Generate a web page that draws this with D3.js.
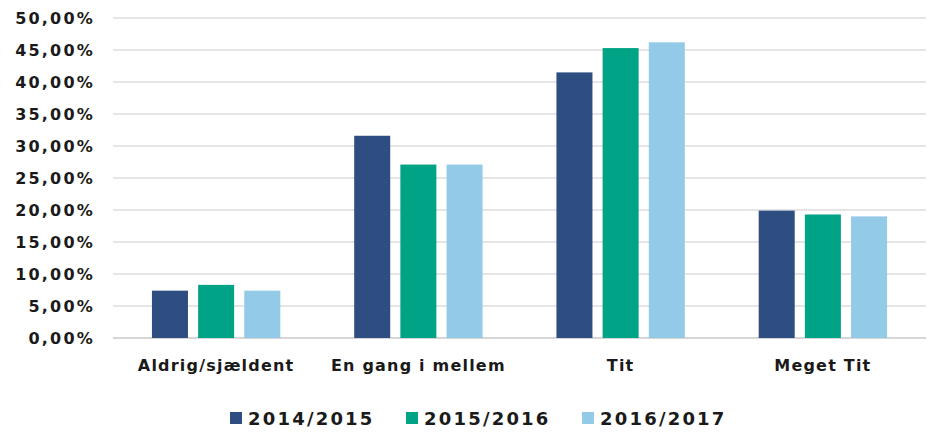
<!DOCTYPE html>
<html>
<head>
<meta charset="utf-8">
<script src="https://cdn.jsdelivr.net/npm/d3@7"></script>
<style>
  body { margin: 0; background: #fff; }
  text { font-family: "DejaVu Sans", sans-serif; font-weight: bold; fill: #1a1a1a; }
</style>
</head>
<body>
<div id="chart-area"></div>
<script>
// data
var categories = ['Aldrig/sjældent', 'En gang i mellem', 'Tit', 'Meget Tit'];
var seriesNames = ['2014/2015', '2015/2016', '2016/2017'];
var s2014 = [7.4, 31.6, 41.5, 19.9];
var s2015 = [8.3, 27.1, 45.3, 19.3];
var s2016 = [7.4, 27.1, 46.2, 19.0];
var colors = ['#2e4e82', '#00a386', '#92cae8'];
var yTicks = [0, 5, 10, 15, 20, 25, 30, 35, 40, 45, 50];

var seriesValues = [s2014, s2015, s2016];
var width = 932, height = 432;
var margin = { top: 18, right: 8, bottom: 94, left: 115 };
var innerW = width - margin.left - margin.right,
	innerH = height - margin.top - margin.bottom;

var svg = d3.select('#chart-area')
	.append('svg')
		.attr('width', width)
		.attr('height', height);

var g = svg.append('g')
	.attr('transform', 'translate(' + margin.left + ', ' + margin.top + ')');

var y = d3.scaleLinear().domain([0, 50]).range([innerH, 0]);
var x0 = d3.scaleBand().domain(categories).range([0, innerW]);
var x1 = d3.scaleBand().domain(seriesNames).range([0, x0.bandwidth()])
	.paddingInner(0.22)
	.paddingOuter(0.8);

// gridlines
g.append('g')
	.selectAll('line')
	.data(yTicks)
	.enter().append('line')
		.attr('x1', -2)
		.attr('x2', innerW + 2)
		.attr('y1', d => y(d))
		.attr('y2', d => y(d))
		.attr('stroke', d => d === 0 ? '#c8c8c8' : '#dcdcdc')
		.attr('stroke-width', 1.5);

// y axis labels
var yAxis = d3.axisLeft(y)
	.tickValues(yTicks)
	.tickSize(0)
	.tickPadding(20)
	.tickFormat(d => d3.format('.2f')(d).replace('.', ',') + '%');

var yAxisGroup = g.append('g').call(yAxis);
yAxisGroup.select('.domain').remove();
yAxisGroup.selectAll('text')
	.attr('font-size', '16px')
	.attr('letter-spacing', '2.2px')
	.style('font-family', '"DejaVu Sans", sans-serif')
	.style('font-weight', 'bold')
	.attr('fill', '#1a1a1a');

// bars
var groups = g.selectAll('.cat')
	.data(categories)
	.enter().append('g')
		.attr('class', 'cat')
		.attr('transform', d => 'translate(' + x0(d) + ', 0)');

groups.selectAll('rect')
	.data((d, i) => seriesNames.map((s, j) => ({ s: s, v: seriesValues[j][i], c: colors[j] })))
	.enter().append('rect')
		.attr('x', d => x1(d.s))
		.attr('width', x1.bandwidth())
		.attr('y', d => y(d.v))
		.attr('height', d => innerH - y(d.v))
		.attr('fill', d => d.c);

// x axis labels
var xAxis = d3.axisBottom(x0).tickSize(0).tickPadding(22);
var xAxisGroup = g.append('g')
	.attr('transform', 'translate(0, ' + innerH + ')')
	.call(xAxis);
xAxisGroup.select('.domain').remove();
xAxisGroup.selectAll('text')
	.attr('font-size', '16px')
	.attr('letter-spacing', '1.2px')
	.style('font-family', '"DejaVu Sans", sans-serif')
	.style('font-weight', 'bold')
	.attr('fill', '#1a1a1a');

// legend
var legendX = [230, 406, 582];
var legend = svg.append('g');
var items = legend.selectAll('g')
	.data(seriesNames)
	.enter().append('g')
		.attr('transform', (d, i) => 'translate(' + legendX[i] + ', 412)');
items.append('rect')
	.attr('width', 12)
	.attr('height', 12)
	.attr('fill', (d, i) => colors[i]);
items.append('text')
	.attr('x', 18)
	.attr('y', 12.5)
	.attr('font-size', '18px')
	.attr('letter-spacing', '2.2px')
	.text(d => d);
</script>
</body>
</html>
